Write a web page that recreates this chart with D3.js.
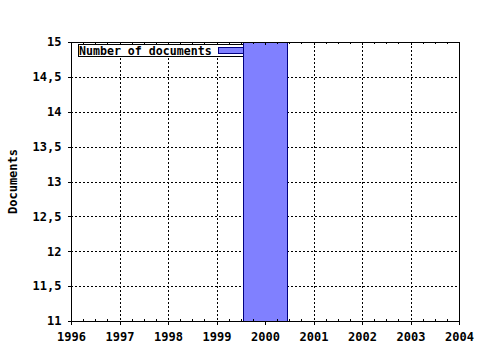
<!DOCTYPE html>
<html>
<head>
<meta charset="utf-8">
<script src="https://cdn.jsdelivr.net/npm/d3@7"></script>
<style>
  html, body { margin: 0; padding: 0; background: #fff; }
  svg { display: block; }
  text { font-family: "DejaVu Sans Mono", "Liberation Mono", monospace; font-weight: bold; font-size: 12px; fill: #000; }
</style>
</head>
<body>
<svg id="chart" width="480" height="350"></svg>
<script>
// ---- data ----
const years = [2000];
const documents = [15];
const seriesName = "Number of documents";
const xTickValues = [1996, 1997, 1998, 1999, 2000, 2001, 2002, 2003, 2004];
const yTickValues = [11, 11.5, 12, 12.5, 13, 13.5, 14, 14.5, 15];
const yTitle = "Documents";

(function () {
// ---- layout ----
const W = 480, H = 350;
const pL = 71, pR = 459, pT = 42, pB = 321;
const svg = d3.select("#chart");
svg.append("rect").attr("width", W).attr("height", H).attr("fill", "#fff");

const x = d3.scaleLinear().domain([1996, 2004]).range([pL, pR]);
const y = d3.scaleLinear().domain([11, 15]).range([pB, pT]);
const fmt = d => String(d).replace(".", ",");

// grid
const grid = svg.append("g").attr("shape-rendering", "crispEdges");
grid.selectAll("line.gx").data(xTickValues.slice(1, -1)).enter().append("line")
  .attr("x1", d => Math.round(x(d)) + 0.5).attr("x2", d => Math.round(x(d)) + 0.5)
  .attr("y1", pT).attr("y2", pB)
  .attr("stroke", "#000").attr("stroke-dasharray", "2,2");
grid.selectAll("line.gy").data(yTickValues.slice(1, -1)).enter().append("line")
  .attr("y1", d => Math.round(y(d)) + 0.5).attr("y2", d => Math.round(y(d)) + 0.5)
  .attr("x1", pL).attr("x2", pR)
  .attr("stroke", "#000").attr("stroke-dasharray", "2,2");

// legend (drawn before bars, bar overlaps it)
const lg = svg.append("g").attr("shape-rendering", "crispEdges");
lg.append("rect").attr("x", 78.5).attr("y", 44.5).attr("width", 172).attr("height", 12)
  .attr("fill", "#fff").attr("stroke", "#000");
lg.append("text").attr("x", 79).attr("y", 54.5).style("font-size", "11.6px").text(seriesName);
lg.append("rect").attr("x", 218.5).attr("y", 47.5).attr("width", 26).attr("height", 6)
  .attr("fill", "#8080ff").attr("stroke", "#000080");

// bars
const clip = svg.append("clipPath").attr("id", "plotclip");
clip.append("rect").attr("x", pL).attr("y", pT).attr("width", pR - pL).attr("height", pB - pT);
const barW = 0.9;
svg.append("g").attr("clip-path", "url(#plotclip)").attr("shape-rendering", "crispEdges")
  .selectAll("rect").data(years.map((yr, i) => ({ yr, v: documents[i] }))).enter().append("rect")
  .attr("x", d => Math.round(x(d.yr - barW / 2)) + 0.5)
  .attr("width", d => Math.round(x(d.yr + barW / 2)) - Math.round(x(d.yr - barW / 2)))
  .attr("y", d => Math.round(y(Math.min(d.v, 15))) + 0.5)
  .attr("height", d => Math.round(y(11)) - Math.round(y(Math.min(d.v, 15))))
  .attr("fill", "#8080ff").attr("stroke", "#000080");

// axes
const xAxis = d3.axisBottom(x).tickValues(xTickValues).tickFormat(d => String(d)).tickSize(3).tickPadding(8);
const gx = svg.append("g").attr("transform", `translate(0,${pB + 0.5})`).call(xAxis);
gx.select(".domain").remove();
const yAxis = d3.axisLeft(y).tickValues(yTickValues).tickFormat(fmt).tickSize(4).tickPadding(6);
const gy = svg.append("g").attr("transform", `translate(${pL + 0.5},0)`).call(yAxis);
gy.select(".domain").remove();
svg.selectAll(".tick text").style("font-family", "DejaVu Sans Mono").style("font-weight", "bold").style("font-size", "12px");
svg.selectAll(".tick line").attr("shape-rendering", "crispEdges");

// minor ticks (x, every quarter year) bottom and top
const minor = d3.range(1996, 2004.001, 0.25).filter(v => Math.abs(v - Math.round(v)) > 1e-6);
const mt = svg.append("g").attr("shape-rendering", "crispEdges").attr("stroke", "#000");
mt.selectAll("line.b").data(minor).enter().append("line")
  .attr("x1", d => Math.round(x(d)) + 0.5).attr("x2", d => Math.round(x(d)) + 0.5)
  .attr("y1", pB).attr("y2", pB - 2);
mt.selectAll("line.t").data(minor).enter().append("line")
  .attr("x1", d => Math.round(x(d)) + 0.5).attr("x2", d => Math.round(x(d)) + 0.5)
  .attr("y1", pT).attr("y2", pT + 2);
mt.selectAll("line.tm").data(xTickValues).enter().append("line")
  .attr("x1", d => Math.round(x(d)) + 0.5).attr("x2", d => Math.round(x(d)) + 0.5)
  .attr("y1", pT).attr("y2", pT + 3);

// frame
svg.append("rect").attr("x", pL + 0.5).attr("y", pT + 0.5)
  .attr("width", pR - pL).attr("height", pB - pT)
  .attr("fill", "none").attr("stroke", "#000").attr("shape-rendering", "crispEdges");

// y title
svg.append("text").attr("transform", `translate(17,${(pT + pB) / 2}) rotate(-90)`)
  .attr("text-anchor", "middle").text(yTitle);
})();
</script>
</body>
</html>
